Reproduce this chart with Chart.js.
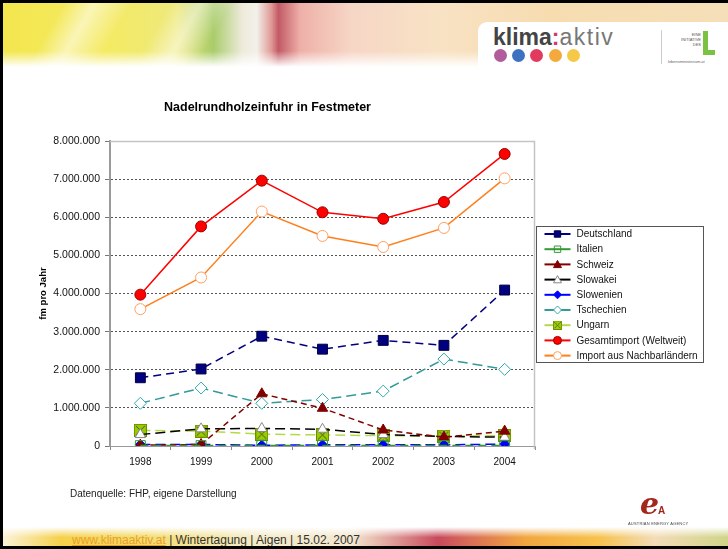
<!DOCTYPE html>
<html>
<head>
<meta charset="utf-8">
<script src="https://cdn.jsdelivr.net/npm/chart.js@4/dist/chart.umd.min.js"></script>
<style>
    html, body { margin: 0; padding: 0; background: #fff; }
    #page { position: relative; width: 728px; height: 549px; overflow: hidden; background: #fff; font-family: "Liberation Sans", Arial, sans-serif; }
    .frame { position: absolute; background: #000; }
    #banner {
        position: absolute; left: 3px; top: 3px; width: 725px; height: 64px;
        background:
            linear-gradient(180deg, rgba(255,255,255,0) 75%, #fff 100%),
            linear-gradient(120deg, rgba(255,255,255,0) 8%, rgba(255,255,255,0.55) 12%, rgba(255,255,255,0) 17%, rgba(255,255,255,0) 22%, rgba(255,255,255,0.5) 26%, rgba(255,255,255,0) 30%),
            linear-gradient(90deg, #f3e64e 0%, #f4ea62 14%, #eee97c 24%, #a9cc6a 29%, #eeeadb 33%, #f2f0ea 35%, #e09a96 37%, #c25a66 38%, #eeb0a8 41%, #f6d6c6 48%, #f8e2c4 60%, #f7dcb0 75%, #f5dfb8 100%);
    }
    #logoBox { position: absolute; left: 478px; top: 22px; width: 250px; height: 46px; background: #fff; border-top-left-radius: 9px; }
    #klima { position: absolute; left: 493px; top: 24px; font-size: 23px; color: #444; white-space: nowrap; }
    #klima b { font-weight: bold; }
    #klima .colon { color: #d33a63; font-weight: bold; }
    #klima .aktiv { color: #777; letter-spacing: 1.5px; }
    .dot { position: absolute; top: 49px; width: 13px; height: 13px; border-radius: 50%; }
    #divider { position: absolute; left: 661px; top: 30px; width: 1px; height: 34px; background: #ccc; }
    #lebensText { position: absolute; left: 679px; top: 32px; font-size: 4px; line-height: 5px; color: #555; text-align: right; width: 22px; }
    #lebensL1 { position: absolute; left: 703px; top: 31px; width: 5px; height: 24px; background: #7cc242; }
    #lebensL2 { position: absolute; left: 703px; top: 50px; width: 12px; height: 5px; background: #7cc242; }
    #lebensUrl { position: absolute; left: 668px; top: 59px; font-size: 4px; color: #666; }
    #chartBox { position: absolute; left: 0; top: 90px; width: 728px; height: 400px; }
    #quelle { position: absolute; left: 70px; top: 488px; font-size: 10px; color: #222; }
    #aeaE { position: absolute; left: 640px; top: 486px; font-family: "DejaVu Serif", serif; font-style: italic; font-weight: bold; font-size: 30px; color: #a3281c; }
    #aeaA { position: absolute; left: 658px; top: 505px; font-size: 10px; font-weight: bold; color: #a3281c; }
    #aeaText { position: absolute; left: 628px; top: 521px; font-size: 4px; color: #444; letter-spacing: 0.2px; }
    #footer {
        position: absolute; left: 3px; top: 527px; width: 725px; height: 19px;
        background:
            linear-gradient(180deg, #fff 0%, rgba(255,255,255,0) 55%),
            linear-gradient(90deg, #fbf3d8 0%, #f5d04a 8%, #f3dc70 20%, #f4ecc8 35%, #f3e8d0 48%, #c84a5c 60%, #d86a58 64%, #f1a640 72%, #f6c24c 82%, #f3dcb8 90%, #cfd488 100%);
    }
    #footText { position: absolute; left: 72px; top: 533px; font-size: 12px; color: #333; white-space: nowrap; }
    #footText a { color: #e8a02a; text-decoration: underline; }
</style>
</head>
<body>
<div id="page">
    <div id="banner"></div>
    <div id="logoBox"></div>
    <div id="klima"><b>klima</b><span class="colon">:</span><span class="aktiv">aktiv</span></div>
    <div class="dot" style="left:494px;background:#b15c9c"></div>
    <div class="dot" style="left:512px;background:#3d72c2"></div>
    <div class="dot" style="left:530px;background:#e23a5e"></div>
    <div class="dot" style="left:549px;background:#f3a93c"></div>
    <div class="dot" style="left:567px;background:#f5c848"></div>
    <div id="divider"></div>
    <div id="lebensText">EINE<br>INITIATIVE<br>DES</div>
    <div id="lebensL1"></div>
    <div id="lebensL2"></div>
    <div id="lebensUrl">lebensministerium.at</div>

    <div id="chartBox"><canvas id="chart" width="728" height="400"></canvas></div>

    <div id="quelle">Datenquelle: FHP, eigene Darstellung</div>
    <div id="aeaE">e</div>
    <div id="aeaA">A</div>
    <div id="aeaText">AUSTRIAN ENERGY AGENCY</div>

    <div id="footer"></div>
    <div id="footText"><a>www.klimaaktiv.at</a> | Wintertagung | Aigen | 15.02. 2007</div>

    <div class="frame" style="left:0;top:0;width:728px;height:3px"></div>
    <div class="frame" style="left:0;top:0;width:3px;height:549px"></div>
    <div class="frame" style="left:0;top:546px;width:728px;height:3px"></div>
</div>

<script>
// Daten (Festmeter pro Jahr)
const years = ['1998', '1999', '2000', '2001', '2002', '2003', '2004'];
const deutschland = [1790000, 2020000, 2880000, 2540000, 2770000, 2640000, 4090000];
const italien = [10000, 10000, 10000, 10000, 10000, 10000, 10000];
const schweiz = [20000, 40000, 1370000, 990000, 420000, 230000, 390000];
const slowakei = [300000, 450000, 460000, 440000, 300000, 250000, 230000];
const slowenien = [40000, 40000, 20000, 30000, 30000, 30000, 50000];
const tschechien = [1120000, 1520000, 1120000, 1220000, 1440000, 2280000, 2010000];
const ungarn = [410000, 390000, 310000, 290000, 270000, 260000, 270000];
const gesamtimport = [3970000, 5760000, 6960000, 6130000, 5960000, 6400000, 7660000];
const nachbarlaender = [3590000, 4420000, 6150000, 5510000, 5220000, 5720000, 7020000];
const seriesNames = ['Deutschland', 'Italien', 'Schweiz', 'Slowakei', 'Slowenien', 'Tschechien', 'Ungarn', 'Gesamtimport (Weltweit)', 'Import aus Nachbarländern'];
const yMax = 8000000;
const yStep = 1000000;

const FONT = '"Liberation Sans", Arial, sans-serif';

// Marker fuer Ungarn: gruenes Quadrat mit Kreuz
function ungarnMarker(size) {
    const c = document.createElement('canvas');
    c.width = size; c.height = size;
    const g = c.getContext('2d');
    g.fillStyle = '#99cc00';
    g.fillRect(0, 0, size, size);
    g.strokeStyle = '#6b8f00';
    g.strokeRect(0.5, 0.5, size - 1, size - 1);
    g.strokeStyle = '#333';
    g.lineWidth = 0.8;
    g.beginPath();
    g.moveTo(2, 2); g.lineTo(size - 2, size - 2);
    g.moveTo(size - 2, 2); g.lineTo(2, size - 2);
    g.stroke();
    return c;
}

function serie(i, data, color, dash, style, radius, fill, border, bw) {
    return {
        label: seriesNames[i],
        data: data,
        borderColor: color,
        borderWidth: 1.5,
        borderDash: dash,
        pointStyle: style,
        pointRadius: radius,
        pointHoverRadius: radius,
        pointBackgroundColor: fill,
        pointBorderColor: border,
        pointBorderWidth: bw,
        tension: 0,
        fill: false
    };
}

const datasets = [
    serie(0, deutschland, '#000080', [8, 5], 'rect', 7, '#000080', '#000040', 1),
    serie(1, italien, '#339933', [8, 5], 'rect', 7, 'rgba(255,255,255,0)', '#339933', 1),
    serie(2, schweiz, '#800000', [6, 4], 'triangle', 6, '#800000', '#800000', 1),
    serie(3, slowakei, '#000000', [10, 5], 'triangle', 6, '#ffffff', '#888888', 1),
    serie(4, slowenien, '#0000ff', [10, 5], 'rectRot', 5, '#0000ff', '#0000ff', 1),
    serie(5, tschechien, '#339999', [10, 5], 'rectRot', 6, '#ffffff', '#33aaaa', 1),
    serie(6, ungarn, '#b5d94a', [10, 5], ungarnMarker(13), 7, '#99cc00', '#99cc00', 1),
    serie(7, gesamtimport, '#ff0000', [], 'circle', 5.5, '#ff0000', '#990000', 1),
    serie(8, nachbarlaender, '#ff7f1a', [], 'circle', 5.5, '#ffffff', '#ffa060', 1)
];

function drawMarker(ctx, ds, x, y, r) {
    ctx.save();
    ctx.setLineDash([]);
    ctx.fillStyle = ds.pointBackgroundColor;
    ctx.strokeStyle = ds.pointBorderColor;
    ctx.lineWidth = 1;
    const s = ds.pointStyle;
    if (typeof s !== 'string') {
        ctx.drawImage(s, x - 4.5, y - 4.5, 9, 9);
    } else {
        ctx.beginPath();
        if (s === 'circle') {
            ctx.arc(x, y, r, 0, Math.PI * 2);
        } else if (s === 'rect') {
            ctx.rect(x - r * 0.8, y - r * 0.8, r * 1.6, r * 1.6);
        } else if (s === 'rectRot') {
            ctx.moveTo(x, y - r); ctx.lineTo(x + r, y); ctx.lineTo(x, y + r); ctx.lineTo(x - r, y); ctx.closePath();
        } else if (s === 'triangle') {
            ctx.moveTo(x, y - r); ctx.lineTo(x + r, y + r * 0.8); ctx.lineTo(x - r, y + r * 0.8); ctx.closePath();
        }
        ctx.fill();
        ctx.stroke();
    }
    ctx.restore();
}

// Rahmen des Diagrammbereichs und Legende im Excel-Stil
const excelStyle = {
    id: 'excelStyle',
    beforeDatasetsDraw(chart) {
        const a = chart.chartArea;
        const ctx = chart.ctx;
        ctx.save();
        ctx.strokeStyle = '#c4c4c4';
        ctx.lineWidth = 1.5;
        ctx.beginPath();
        ctx.moveTo(a.left, a.top + 0.5);
        ctx.lineTo(a.right - 0.5, a.top + 0.5);
        ctx.lineTo(a.right - 0.5, a.bottom + 3);
        ctx.stroke();
        ctx.restore();
    },
    afterDraw(chart) {
        const ctx = chart.ctx;
        const left = 536.5, top = 136.5, w = 167, h = 136;
        ctx.save();
        ctx.strokeStyle = '#555';
        ctx.lineWidth = 1;
        ctx.strokeRect(left, top, w, h);
        ctx.font = '10px ' + FONT;
        ctx.textBaseline = 'middle';
        chart.data.datasets.forEach((ds, i) => {
            const y = top + 7.5 + i * 15.2;
            ctx.strokeStyle = ds.borderColor;
            ctx.lineWidth = 2;
            ctx.setLineDash([]);
            ctx.beginPath();
            ctx.moveTo(left + 8, y);
            ctx.lineTo(left + 34, y);
            ctx.stroke();
            drawMarker(ctx, ds, left + 21, y, 4);
            ctx.fillStyle = '#111';
            ctx.fillText(ds.label, left + 40, y + 0.5);
        });
        ctx.restore();
    }
};

new Chart(document.getElementById('chart'), {
    type: 'line',
    data: { labels: years, datasets: datasets },
    options: {
        responsive: false,
        animation: false,
        devicePixelRatio: 1,
        layout: { padding: { left: 0, right: 193, top: 0, bottom: 0 } },
        plugins: {
            legend: { display: false },
            tooltip: { enabled: false },
            title: {
                display: true,
                text: 'Nadelrundholzeinfuhr in Festmeter',
                color: '#000',
                font: { family: FONT, size: 12.5, weight: 'bold', lineHeight: 1.2 },
                padding: { top: 10, bottom: 26 }
            }
        },
        scales: {
            x: {
                offset: true,
                afterFit(scale) { scale.height = 44; },
                grid: { offset: true, drawOnChartArea: false, drawTicks: true, tickLength: 4, tickColor: '#888' },
                border: { color: '#999', width: 1 },
                ticks: { color: '#111', font: { family: FONT, size: 10 }, padding: 6, maxRotation: 0 }
            },
            y: {
                min: 0,
                max: yMax,
                afterFit(scale) { scale.width = 110; },
                grid: { color: (c) => c.tick.value === 0 ? 'rgba(0,0,0,0)' : '#555', lineWidth: 1, tickLength: 5, tickColor: '#777', tickBorderDash: [] },
                border: { color: '#9a9a9a', width: 2, dash: [2, 2] },
                ticks: {
                    stepSize: yStep,
                    color: '#111',
                    padding: 5,
                    font: { family: FONT, size: 10.5 },
                    callback: (v) => Number(v).toLocaleString('de-DE')
                },
                title: {
                    display: true,
                    text: 'fm pro Jahr',
                    color: '#000',
                    font: { family: FONT, size: 9.5, weight: 'bold', lineHeight: 1.2 },
                    padding: { top: 38, bottom: 0 }
                }
            }
        }
    },
    plugins: [excelStyle]
});
</script>
</body>
</html>
